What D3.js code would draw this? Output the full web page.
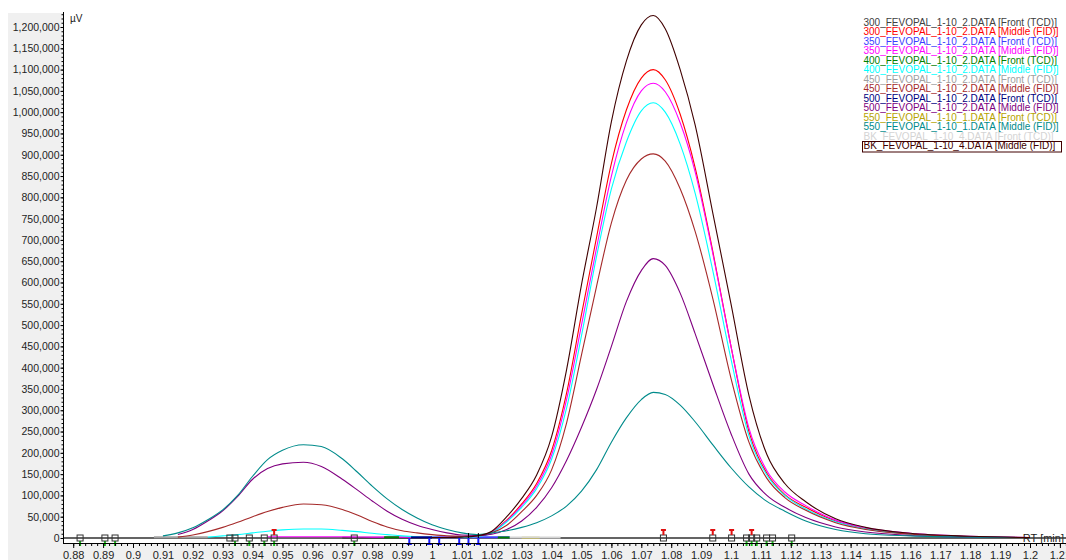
<!DOCTYPE html>
<html>
<head>
<meta charset="utf-8">
<script src="https://cdn.jsdelivr.net/npm/d3@7"></script>
<style>
  body { margin: 0; background: #fff; }
  svg { display: block; font-family: "Liberation Sans", Arial, sans-serif; }
</style>
</head>
<body>
<svg width="1066" height="560"></svg>
<script>
// retention time grid shared by the FID traces (min)
var rtGrid = [0.905, 0.91, 0.915, 0.92, 0.925, 0.93, 0.935, 0.94, 0.945, 0.95,
  0.957, 0.963, 0.97, 0.975, 0.98, 0.985, 0.99, 0.995, 1.0, 1.005,
  1.01, 1.015, 1.02, 1.025, 1.03, 1.035, 1.04, 1.045, 1.05, 1.055,
  1.06, 1.065, 1.07, 1.074, 1.078, 1.083, 1.088, 1.094, 1.1, 1.106,
  1.112, 1.118, 1.125, 1.135, 1.145, 1.16, 1.18, 1.2];

// Middle (FID) traces, µV (null = not drawn)
var mid300 = [null, null, null, null, null, null, null, null, null, null,
  null, null, null, null, null, null, null, null, 1000, 1000,
  1500, 3000, 14000, 42000, 80000, 128000, 205000, 340000, 525000, 705000,
  880000, 1005000, 1080000, 1100000, 1076000, 995000, 870000, 670000, 450000, 250000,
  152000, 102000, 72000, 40000, 22000, 10000, 3000, 1000];
var mid350 = [null, null, null, null, null, null, null, null, 3000, 3000,
  3000, 3000, 3000, 2500, 2000, 2000, 2000, 2000, 2000, 2000,
  2000, 3000, 13000, 40000, 76000, 122000, 195000, 325000, 500000, 680000,
  850000, 975000, 1050000, 1068000, 1048000, 975000, 860000, 665000, 450000, 258000,
  158000, 108000, 76000, 42000, 24000, 11000, 4000, 1000];
var mid400 = [null, null, null, null, 2000, 5000, 8000, 12000, 16000, 19000,
  21000, 21000, 18000, 15000, 11000, 8000, 5000, 3000, 2000, 1500,
  1500, 3000, 12000, 38000, 72000, 116000, 185000, 305000, 475000, 660000,
  820000, 930000, 1003000, 1022000, 1000000, 925000, 810000, 625000, 420000, 240000,
  148000, 100000, 68000, 38000, 21000, 9000, 3000, 1000];
var mid450 = [null, null, 2000, 7000, 15000, 25000, 37000, 50000, 62000, 72000,
  80000, 78000, 67000, 54000, 39000, 26000, 17000, 12000, 8000, 5000,
  4000, 5000, 12000, 30000, 62000, 100000, 160000, 270000, 430000, 590000,
  740000, 840000, 890000, 902000, 885000, 820000, 720000, 560000, 375000, 225000,
  140000, 95000, 65000, 36000, 20000, 9000, 3000, 1000];
var mid500 = [null, null, 8000, 20000, 40000, 64000, 98000, 138000, 163000, 174000,
  178000, 168000, 138000, 113000, 87000, 63000, 44000, 30000, 20000, 12000,
  7000, 6000, 9000, 20000, 40000, 72000, 118000, 182000, 260000, 348000,
  450000, 555000, 628000, 656000, 640000, 575000, 480000, 360000, 245000, 150000,
  100000, 72000, 48000, 26000, 14000, 6000, 2000, 1000];
var mid550 = [null, 5000, 12000, 24000, 43000, 66000, 100000, 145000, 184000, 206000,
  219000, 215000, 186000, 155000, 122000, 92000, 67000, 47000, 31000, 20000,
  12000, 8000, 12000, 17000, 25000, 36000, 52000, 75000, 110000, 160000,
  225000, 282000, 325000, 342000, 337000, 312000, 273000, 218000, 165000, 120000,
  86000, 63000, 40000, 20000, 10000, 5000, 2000, 1000];
var bkMid = [null, null, null, null, null, null, null, null, null, null,
  null, null, null, null, null, null, null, null, 1000, 1000,
  2000, 5000, 16000, 50000, 93000, 148000, 238000, 395000, 595000, 775000,
  978000, 1120000, 1205000, 1227000, 1196000, 1100000, 970000, 760000, 550000, 335000,
  196000, 128000, 85000, 45000, 25000, 11000, 4000, 1000];

// Front (TCD) traces: short pieces lying on the baseline, [rt, µV]
var front300 = [[0.97, 800], [1.0, 800]];
var front350 = [[1.0, 1500], [1.026, 1500]];
var front400 = [[0.984, 1500], [0.989, 1500], null, [1.022, 1000], [1.026, 1000]];
var front450 = [[0.907, 1500], [0.925, 1500]];
var front500 = [[0.993, 1500], [1.0, 1500]];
var front550 = [[1.03, 500], [1.036, 500]];
var bkFront = [[1.026, 1000], [1.043, 1000]];

var legendNames = [
  "300_FEVOPAL_1-10_2.DATA [Front (TCD)]",
  "300_FEVOPAL_1-10_2.DATA [Middle (FID)]",
  "350_FEVOPAL_1-10_2.DATA [Front (TCD)]",
  "350_FEVOPAL_1-10_2.DATA [Middle (FID)]",
  "400_FEVOPAL_1-10_2.DATA [Front (TCD)]",
  "400_FEVOPAL_1-10_2.DATA [Middle (FID)]",
  "450_FEVOPAL_1-10_2.DATA [Front (TCD)]",
  "450_FEVOPAL_1-10_2.DATA [Middle (FID)]",
  "500_FEVOPAL_1-10_2.DATA [Front (TCD)]",
  "500_FEVOPAL_1-10_2.DATA [Middle (FID)]",
  "550_FEVOPAL_1-10_1.DATA [Front (TCD)]",
  "550_FEVOPAL_1-10_1.DATA [Middle (FID)]",
  "BK_FEVOPAL_1-10_4.DATA [Front (TCD)]",
  "BK_FEVOPAL_1-10_4.DATA [Middle (FID)]"
];
var seriesColors = ["#404040", "#ff0000", "#3c3cff", "#ff00ff", "#008000", "#00ffff", "#a0a0a0",
  "#a52a2a", "#000080", "#800080", "#b5a300", "#008b8b", "#d4d4d4", "#400000"];

var yTicks = d3.range(0, 1200001, 50000);
var xTicks = d3.range(88, 122).map(function (d) { return d / 100; });

// peak markers on the baseline (rt, min)
var squareRT = [0.8823, 0.8906, 0.894, 0.9324, 0.9341, 0.9389, 0.9439, 0.9472, 0.974,
  1.0774, 1.0939, 1.1002, 1.1052, 1.1069, 1.1086, 1.1119, 1.1139, 1.1203];
var redPinRT = [0.9472, 1.0774, 1.0939, 1.1002, 1.1069];
var greenTickRT = [0.8823, 0.8906, 0.894, 0.9341, 0.9389, 0.9439, 0.9472, 0.974,
  1.1052, 1.1069, 1.1086, 1.1119, 1.1139, 1.1203];
var bluePinRT = [0.9924, 0.9991, 1.0024, 1.0091, 1.0122, 1.0155];
var blackPinRT = [1.0122, 1.0155];

var svg = d3.select("svg");

var x = d3.scaleLinear().domain([0.87692, 1.21204]).range([64, 1066]);
var y = d3.scaleLinear().domain([0, 1200000]).range([538, 27]);

// grey frame around the plot
svg.append("rect").attr("x", 8).attr("y", 13).attr("width", 56).attr("height", 547).attr("fill", "#f0f0f0");
svg.append("rect").attr("x", 8).attr("y", 543).attr("width", 1058).attr("height", 17).attr("fill", "#f0f0f0");

function toPairs(vals) {
  return rtGrid.map(function (t, i) { return vals[i] == null ? null : [t, vals[i]]; });
}
var seriesData = [front300, toPairs(mid300), front350, toPairs(mid350), front400, toPairs(mid400),
  front450, toPairs(mid450), front500, toPairs(mid500), front550, toPairs(mid550), bkFront, toPairs(bkMid)];

var line = d3.line()
  .defined(function (d) { return d !== null; })
  .x(function (d) { return x(d[0]); })
  .y(function (d) { return y(d[1]); })
  .curve(d3.curveMonotoneX);

// RT label, crossed by the zero line
svg.append("text").attr("x", 1064).attr("y", 542).attr("text-anchor", "end")
  .attr("font-size", 11).attr("fill", "#222").text("RT [min]");

// zero line
svg.append("line").attr("x1", 64).attr("x2", 1066).attr("y1", y(0)).attr("y2", y(0))
  .attr("stroke", "#303030").attr("stroke-width", 1.6);

svg.append("g").selectAll("path")
  .data(seriesData)
  .enter()
  .append("path")
  .attr("d", line)
  .attr("fill", "none")
  .attr("stroke", function (d, i) { return seriesColors[i]; })
  .attr("stroke-width", function (d, i) { return i % 2 === 0 ? 2 : 1.1; });

// markers
var mk = svg.append("g");
mk.selectAll(".gt").data(greenTickRT).enter().append("line")
  .attr("x1", function (d) { return x(d); }).attr("x2", function (d) { return x(d); })
  .attr("y1", 541).attr("y2", 546).attr("stroke", "#19c019").attr("stroke-width", 2);
mk.selectAll(".sq").data(squareRT).enter().append("rect")
  .attr("x", function (d) { return x(d) - 3; }).attr("y", y(0) - 3)
  .attr("width", 6).attr("height", 6)
  .attr("fill", "none").attr("stroke", "#333").attr("stroke-width", 1);
mk.selectAll(".rp").data(redPinRT).enter().append("path")
  .attr("d", function (d) {
    var px = x(d);
    return "M" + (px - 2.5) + ",529h5v2h-1.5v4h-2v-4h-1.5z";
  })
  .attr("fill", "#e01010");
mk.selectAll(".bp").data(bluePinRT).enter().append("path")
  .attr("d", function (d) {
    var px = x(d);
    return "M" + (px - 1) + ",538h2v5h1.5v2h-5v-2h1.5z";
  })
  .attr("fill", "#1a1aff");
mk.selectAll(".kp").data(blackPinRT).enter().append("path")
  .attr("d", function (d) {
    var px = x(d);
    return "M" + (px - 0.5) + ",533h1v5h-1z";
  })
  .attr("fill", "#000");

// axes
var xAxis = svg.append("g").attr("transform", "translate(0,543)")
  .call(d3.axisBottom(x).tickValues(xTicks).tickSize(5).tickSizeOuter(0).tickPadding(3)
    .tickFormat(function (d) { return String(+d.toFixed(2)); }));
svg.append("g").attr("transform", "translate(0,543)")
  .call(d3.axisBottom(x).tickValues(d3.range(440, 607).map(function (d) { return d / 500; }))
    .tickSize(3).tickSizeOuter(0).tickFormat(""));
xAxis.selectAll("text").attr("font-size", 11).attr("fill", "#1e1e1e").attr("font-family", null);

var yAxis = svg.append("g").attr("transform", "translate(63.5,0)")
  .call(d3.axisLeft(y).tickValues(yTicks).tickSize(3).tickSizeOuter(0).tickPadding(1)
    .tickFormat(d3.format(",")));
svg.append("g").attr("transform", "translate(63.5,0)")
  .call(d3.axisLeft(y).tickValues(d3.range(0, 1230001, 10000)).tickSize(2).tickSizeOuter(0).tickFormat(""));
yAxis.selectAll("text").attr("font-size", 10.5).attr("fill", "#1e1e1e").attr("font-family", null);

svg.selectAll(".domain").remove();
svg.selectAll(".tick line").attr("stroke", "#000");
svg.append("line").attr("x1", 63.5).attr("x2", 63.5).attr("y1", 12).attr("y2", 543.5).attr("stroke", "#000");
svg.append("line").attr("x1", 63).attr("x2", 1066).attr("y1", 543.5).attr("y2", 543.5).attr("stroke", "#000");

svg.append("text").attr("x", 70).attr("y", 22).attr("font-size", 10).attr("fill", "#222").text("µV");

// legend
var legend = svg.append("g").attr("font-size", 10);
legend.selectAll("text")
  .data(legendNames)
  .enter()
  .append("text")
  .attr("x", 863.5)
  .attr("y", function (d, i) { return 22.3 + i * 9.5; })
  .attr("dy", "0.35em")
  .attr("fill", function (d, i) { return seriesColors[i]; })
  .text(function (d) { return d; });
legend.append("rect").attr("x", 862.5).attr("y", 141.5).attr("width", 199).attr("height", 10.5)
  .attr("fill", "none").attr("stroke", "#400000").attr("stroke-width", 1);
</script>
</body>
</html>
